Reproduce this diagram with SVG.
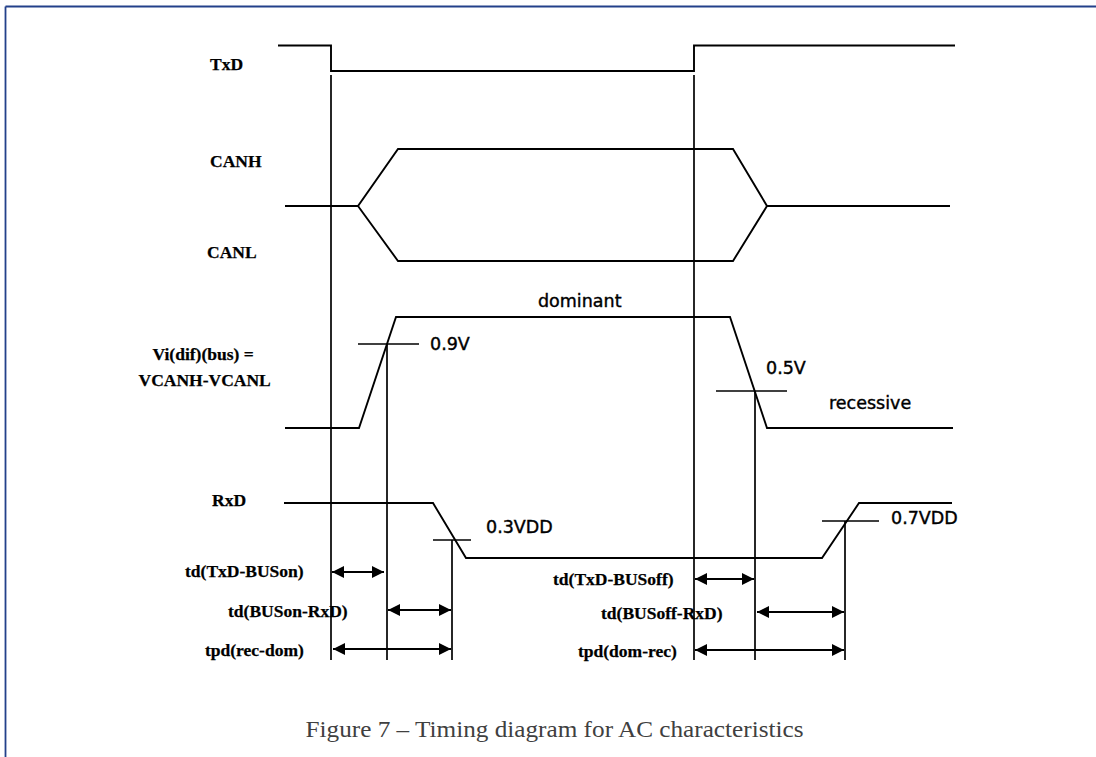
<svg xmlns="http://www.w3.org/2000/svg" width="1096" height="757" viewBox="0 0 1096 757">
<style>
.sig{fill:none;stroke:#000;stroke-width:1.9;stroke-linejoin:miter}
.ref{fill:none;stroke:#000;stroke-width:1.7}
.arr{fill:none;stroke:#000;stroke-width:2;marker-start:url(#ah);marker-end:url(#ah)}
.lbl{font-family:"Liberation Serif","Times New Roman",serif;font-weight:bold;font-size:17.5px;fill:#000;stroke:#000;stroke-width:0.25}
.val{font-family:"DejaVu Sans",Verdana,sans-serif;font-size:17.5px;fill:#000;stroke:#000;stroke-width:0.4}
.cap{font-family:"Liberation Serif","Times New Roman",serif;font-size:23px;fill:#404040}
</style>
<defs>
<marker id="ah" viewBox="0 0 12 12" refX="12" refY="6" markerWidth="12" markerHeight="12" markerUnits="userSpaceOnUse" orient="auto-start-reverse">
<path d="M0,0 L12,6 L0,12 Z" fill="#000"/>
</marker>
</defs>
<rect width="1096" height="757" fill="#fff"/>
<g id="frame">
<line x1="5.5" y1="6.5" x2="1096" y2="6.5" stroke="#23408a" stroke-width="1.8"/>
<line x1="5.5" y1="6.5" x2="5.5" y2="757" stroke="#23408a" stroke-width="1.8"/>
</g>
<g id="txd">
<polyline class="sig" points="278,45.5 331,45.5 331,71 694,71 694,45.5 955,45.5"/>
<text class="lbl" x="210" y="70">TxD</text>
</g>
<g id="can">
<polyline class="sig" points="285,206 358,206 398,149 733,149 767,206 950,206"/>
<polyline class="sig" points="358,206 398,261 733,261 767,206"/>
<text class="lbl" x="210" y="166.5">CANH</text>
<text class="lbl" x="207" y="258">CANL</text>
</g>
<g id="vdiff">
<polyline class="sig" points="285,428 359,428 396,317 730,317 767,428 953,428"/>
<line class="ref" x1="358" y1="344" x2="419" y2="344"/>
<line class="ref" x1="716" y1="391" x2="787" y2="391"/>
<text class="lbl" x="152.5" y="360">Vi(dif)(bus) =</text>
<text class="lbl" x="138.5" y="386">VCANH-VCANL</text>
<text class="val" x="538" y="306.5">dominant</text>
<text class="val" x="430" y="349.5">0.9V</text>
<text class="val" x="766" y="374">0.5V</text>
<text class="val" x="829" y="409">recessive</text>
</g>
<g id="rxd">
<polyline class="sig" points="284,503 433,503 466,558 822,558 859,503 952,503"/>
<line class="ref" x1="433" y1="540" x2="471" y2="540"/>
<line class="ref" x1="822" y1="521" x2="879" y2="521"/>
<text class="lbl" x="212" y="506">RxD</text>
<text class="val" x="486" y="533">0.3VDD</text>
<text class="val" x="891" y="524">0.7VDD</text>
</g>
<g id="connectors">
<line class="ref" x1="331" y1="75" x2="331" y2="660"/>
<line class="ref" x1="694" y1="75" x2="694" y2="660"/>
<line class="ref" x1="387" y1="344" x2="387" y2="660"/>
<line class="ref" x1="452" y1="540" x2="452" y2="660"/>
<line class="ref" x1="755" y1="391" x2="755" y2="660"/>
<line class="ref" x1="845" y1="521" x2="845" y2="660"/>
<line class="arr" x1="332" y1="572" x2="384" y2="572"/>
<line class="arr" x1="388" y1="610" x2="451" y2="610"/>
<line class="arr" x1="333" y1="649" x2="451" y2="649"/>
<line class="arr" x1="695" y1="579" x2="754" y2="579"/>
<line class="arr" x1="757" y1="612" x2="844" y2="612"/>
<line class="arr" x1="695" y1="650" x2="844" y2="650"/>
</g>
<g id="timing-labels">
<text class="lbl" x="185" y="577">td(TxD-BUSon)</text>
<text class="lbl" x="228" y="617">td(BUSon-RxD)</text>
<text class="lbl" x="205" y="656">tpd(rec-dom)</text>
<text class="lbl" x="553" y="585">td(TxD-BUSoff)</text>
<text class="lbl" x="601" y="619">td(BUSoff-RxD)</text>
<text class="lbl" x="578" y="657">tpd(dom-rec)</text>
</g>
<g id="caption">
<text class="cap" x="305.5" y="736.5" textLength="498" lengthAdjust="spacingAndGlyphs">Figure 7 – Timing diagram for AC characteristics</text>
</g>
</svg>
